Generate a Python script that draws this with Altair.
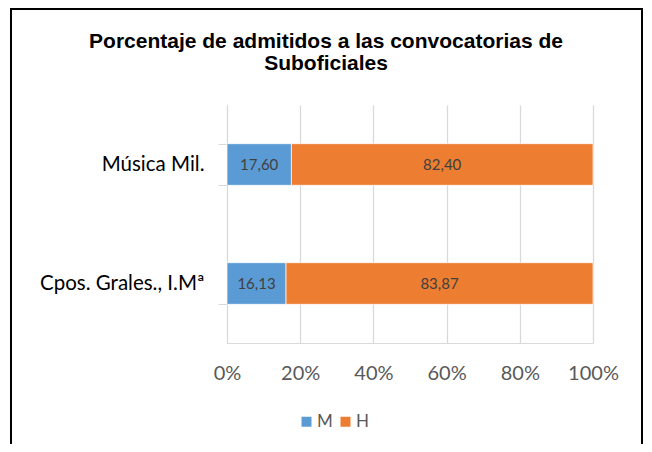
import altair as alt
import pandas as pd

title_lines = ["Porcentaje de admitidos a las convocatorias de", "Suboficiales"]
categories = ["Música Mil.", "Cpos. Grales., I.Mª"]
series = ["M", "H"]
values_M = [17.60, 16.13]
values_H = [82.40, 83.87]
colors = ["#5B9BD5", "#ED7D31"]

rows = []
for i, c in enumerate(categories):
    rows.append({"cat": c, "serie": "M", "v": values_M[i], "ord": 0})
    rows.append({"cat": c, "serie": "H", "v": values_H[i], "ord": 1})
df = pd.DataFrame(rows)

base = alt.Chart(df).transform_stack(
    stack="v", groupby=["cat"], as_=["v0", "v1"], sort=[alt.SortField("ord")]
).transform_calculate(
    mid="(datum.v0 + datum.v1) / 2",
    lab="replace(format(datum.v, '.2f'), '.', ',')",
)

yenc = alt.Y(
    "cat:N",
    sort=categories,
    title=None,
    scale=alt.Scale(paddingInner=0.65, paddingOuter=0.325),
    axis=alt.Axis(
        labelFont="Lato", labelFontSize=20.5, labelColor="#000000", labelPadding=14,
        tickBand="extent", tickColor="#D9D9D9", tickSize=9, domainColor="#D9D9D9",
        grid=False,
    ),
)

bars = base.mark_bar(stroke="white", strokeWidth=0.7).encode(
    x=alt.X(
        "v0:Q",
        scale=alt.Scale(domain=[0, 100], nice=False),
        title=None,
        axis=alt.Axis(
            values=[0, 20, 40, 60, 80, 100], labelExpr="datum.value + '%'",
            labelFont="Lato", labelFontSize=20, labelColor="#595959", labelPadding=20,
            labelFlush=False, labelOverlap=False,
            ticks=False, domainColor="#D9D9D9", gridColor="#D9D9D9", gridWidth=1.3,
        ),
    ),
    x2="v1:Q",
    y=yenc,
    color=alt.Color(
        "serie:N",
        scale=alt.Scale(domain=series, range=colors),
        sort=series,
        legend=alt.Legend(
            title=None, orient="none", direction="horizontal", legendX=71, legendY=308,
            symbolType="square", symbolSize=100, symbolStrokeWidth=0,
            labelFont="Lato", labelFontSize=17, labelColor="#595959",
            labelOffset=2, columnPadding=4,
        ),
    ),
    order=alt.Order("ord:Q"),
)

text = base.mark_text(font="Lato", fontSize=15, color="#404040").encode(
    x="mid:Q",
    y=alt.Y("cat:N", sort=categories),
    text="lab:N",
)

title = alt.Chart(pd.DataFrame({"k": [0]})).mark_text(
    font="Liberation Sans", fontSize=21, fontWeight="bold", color="#000000",
    align="center", baseline="middle", lineHeight=22,
).encode(
    x=alt.value(99), y=alt.value(-63), text=alt.value(title_lines)
)

border = alt.Chart(pd.DataFrame({"k": [0]})).mark_rect(
    fill=None, stroke="#000000", strokeWidth=2
).encode(
    x=alt.value(-216), x2=alt.value(415), y=alt.value(-96), y2=alt.value(400)
)

chart = alt.layer(bars, text, title, border).properties(
    width=366,
    height=238,
    autosize=alt.AutoSizeParams(type="none"),
    padding={"left": 219, "top": 97, "right": 51, "bottom": 101},
).configure_view(stroke=None)

chart.save("out.html", embed_options={"renderer": "svg", "actions": False})
